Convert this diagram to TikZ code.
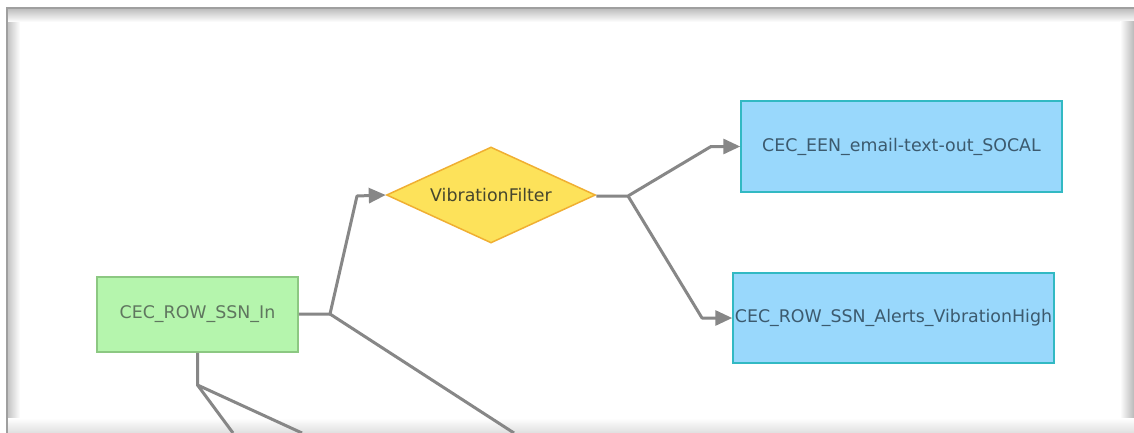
\documentclass[tikz,border=0pt]{standalone}
\usepackage{fontspec}
\setmainfont{DejaVu Sans}
\usetikzlibrary{arrows.meta,positioning,shapes.geometric}

\definecolor{srcfill}{RGB}{181,245,173}
\definecolor{srcline}{RGB}{140,200,130}
\definecolor{srctext}{RGB}{95,118,95}
\definecolor{filtfill}{RGB}{253,226,90}
\definecolor{filtline}{RGB}{240,175,50}
\definecolor{filttext}{RGB}{70,70,45}
\definecolor{sinkfill}{RGB}{153,216,252}
\definecolor{sinkline}{RGB}{50,185,195}
\definecolor{sinktext}{RGB}{60,90,110}
\definecolor{linkgray}{RGB}{135,135,135}

\begin{document}
\begin{tikzpicture}[
    x=1pt, y=-1pt,
    every node/.style={font=\fontsize{17.4}{20}\selectfont, inner sep=0pt},
    srcbox/.style={draw=srcline, fill=srcfill, text=srctext, line width=1.5pt, minimum width=201pt, minimum height=75pt},
    filterdia/.style={diamond, aspect=2.2, draw=filtline, fill=filtfill, text=filttext, line width=1.5pt, minimum width=209pt, minimum height=96pt},
    sinkbox/.style={draw=sinkline, fill=sinkfill, text=sinktext, line width=1.5pt, minimum width=321pt, minimum height=91pt},
    link/.style={draw=linkgray, line width=3pt, line join=round},
    arrow/.style={link, -{Triangle[length=17pt, width=15pt]}}
]
% page and screenshot frame
\useasboundingbox (0,0) rectangle (1134,433);
\fill[white] (0,0) rectangle (1134,433);
\shade[left color=gray!45, right color=white] (8,9) rectangle (20,433);
\shade[top color=gray!50, bottom color=white] (8,9) rectangle (1134,22);
\shade[left color=white, right color=gray!55] (1120,22) rectangle (1134,433);
\shade[top color=white, bottom color=gray!25] (8,418) rectangle (1134,433);
\draw[gray!75, line width=2pt] (7,433) -- (7,8) -- (1134,8);

% nodes
\node[srcbox] (ssnin) at (197.5,314.5) {CEC\_ROW\_SSN\_In};
\node[filterdia] (vibfilter) at (491,195) {VibrationFilter};
\node[sinkbox] (emailout) at (901.5,146.5) {CEC\_EEN\_email-text-out\_SOCAL};
\node[sinkbox, minimum height=90pt] (alerts) at (893.5,318) {CEC\_ROW\_SSN\_Alerts\_VibrationHigh};

% bend points
\coordinate (inbranch) at (330,314);
\coordinate (inup) at (357,196);
\coordinate (indown) at (197.5,385);
\coordinate (filtbranch) at (628,196);
\coordinate (filtup) at (711,146.5);
\coordinate (filtdown) at (702,318);
% ends leaving the page
\coordinate (offa) at (233,433);
\coordinate (offb) at (302,433);
\coordinate (offc) at (514,433);

% connectors
\draw[arrow] (ssnin.east |- inbranch) -- (inbranch) -- (inup) -- (vibfilter.west);
\draw[link] (inbranch) -- (offc);
\draw[link] (ssnin.south) -- (indown) -- (offa);
\draw[link] (indown) -- (offb);
\draw[arrow] (vibfilter.east |- filtbranch) -- (filtbranch) -- (filtup) -- (filtup -| emailout.west);
\draw[arrow] (filtbranch) -- (filtdown) -- (filtdown -| alerts.west);
\end{tikzpicture}
\end{document}
